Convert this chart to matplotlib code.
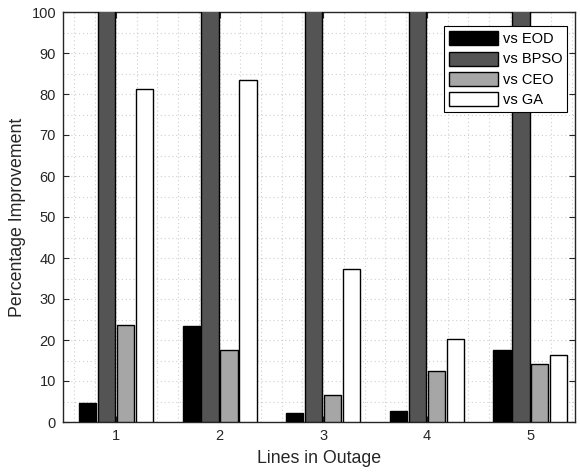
import numpy as np
import matplotlib.pyplot as plt
from matplotlib.ticker import MultipleLocator

plt.rcParams['font.family'] = ['Liberation Sans', 'DejaVu Sans']

# data
outages = [1, 2, 3, 4, 5]
series = ['vs EOD', 'vs BPSO', 'vs CEO', 'vs GA']
eod = [4.6, 23.3, 2.2, 2.8, 17.5]
bpso = [120, 120, 120, 120, 120]  # clipped above 100 in the original
ceo = [23.7, 17.5, 6.6, 12.4, 14.2]
ga = [81.1, 83.3, 37.2, 20.2, 16.3]
colors = ['#000000', '#545454', '#a6a6a6', '#ffffff']

fig = plt.figure(figsize=(5.8, 4.74), dpi=100)
ax = fig.add_axes([63/580, 52/474, 512/580, 410/474])

x = np.array(outages)
w = 0.165
step = 0.183
for i, (vals, lab) in enumerate(zip([eod, bpso, ceo, ga], series)):
    ax.bar(x + (i - 1.5) * step, vals, w, color=colors[i], edgecolor='black',
           linewidth=1.0, label=lab, zorder=3)

ax.set_xlim(0.49, 5.43)
ax.set_ylim(0, 100)
ax.set_xticks(outages)
ax.set_yticks(np.arange(0, 101, 10))
ax.xaxis.set_minor_locator(MultipleLocator(0.2))
ax.yaxis.set_minor_locator(MultipleLocator(5))
ax.grid(which='both', color='#cfcfcf', linestyle=(0, (1, 2.5)), linewidth=0.8, zorder=0)
ax.tick_params(which='major', direction='in', length=4, top=True, right=True,
               labelsize=10.5, colors='#262626', width=0.8, pad=5)
ax.tick_params(which='minor', length=0)
for s in ax.spines.values():
    s.set_color('#262626')
    s.set_linewidth(1.0)

ax.set_xlabel('Lines in Outage', fontsize=12.8, color='#262626', labelpad=5)
ax.set_ylabel('Percentage Improvement', fontsize=12.8, color='#262626', labelpad=4)

leg = ax.legend(loc='upper right', bbox_to_anchor=(0.985, 0.965), fancybox=False,
                edgecolor='black', framealpha=1, fontsize=10.5, handlelength=3.4,
                handleheight=1.1, handletextpad=0.3, labelspacing=0.35,
                borderpad=0.35, borderaxespad=0)
leg.get_frame().set_linewidth(0.8)

fig.savefig('out.png', dpi=100)
